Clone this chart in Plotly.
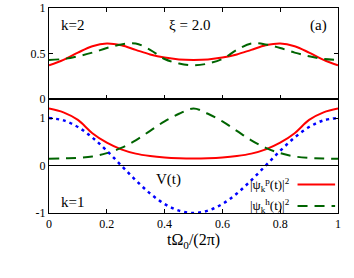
import plotly.graph_objects as go

t = [0.0, 0.05, 0.1, 0.15, 0.2, 0.25, 0.3, 0.35, 0.4, 0.45, 0.5,
     0.55, 0.6, 0.65, 0.7, 0.75, 0.8, 0.85, 0.9, 0.95, 1.0]

# panel k=2 (top)
p_k2 = [0.37, 0.43, 0.51, 0.58, 0.61, 0.59, 0.54, 0.49, 0.455, 0.435, 0.43,
        0.435, 0.455, 0.49, 0.54, 0.59, 0.61, 0.58, 0.51, 0.43, 0.37]
h_k2 = [0.43, 0.44, 0.47, 0.51, 0.56, 0.60, 0.61, 0.54, 0.44, 0.39, 0.37,
        0.39, 0.44, 0.54, 0.61, 0.60, 0.56, 0.51, 0.47, 0.44, 0.43]

# panel k=1 (bottom)
p_k1 = [1.20, 1.12, 0.96, 0.68, 0.48, 0.34, 0.25, 0.20, 0.17, 0.155, 0.15,
        0.155, 0.17, 0.20, 0.25, 0.34, 0.48, 0.68, 0.96, 1.12, 1.20]
h_k1 = [0.14, 0.15, 0.16, 0.19, 0.26, 0.37, 0.53, 0.73, 0.93, 1.09, 1.20,
        1.09, 0.93, 0.73, 0.53, 0.37, 0.26, 0.19, 0.16, 0.15, 0.14]
v_t = [1.0, 0.95, 0.81, 0.59, 0.31, 0.0, -0.31, -0.59, -0.81, -0.95, -1.0,
       -0.95, -0.81, -0.59, -0.31, 0.0, 0.31, 0.59, 0.81, 0.95, 1.0]

x_ticks = [0, 0.2, 0.4, 0.6, 0.8, 1]
x_ticklabels = ["0", "0.2", "0.4", "0.6", "0.8", "1"]

RED = "#ff0000"
GREEN = "#006400"
BLUE = "#0000ff"
FONT = "'Liberation Serif', 'Times New Roman', 'DejaVu Serif', serif"

fig = go.Figure()

fig.add_trace(go.Scatter(x=t, y=p_k2, mode="lines", line=dict(color=RED, width=2, shape="spline"),
                         xaxis="x2", yaxis="y2", showlegend=False))
fig.add_trace(go.Scatter(x=t, y=h_k2, mode="lines", line=dict(color=GREEN, width=2, dash="10px,7px", shape="spline"),
                         xaxis="x2", yaxis="y2", showlegend=False))

fig.add_trace(go.Scatter(x=t, y=p_k1, mode="lines", line=dict(color=RED, width=2, shape="spline"),
                         xaxis="x", yaxis="y", showlegend=False))
fig.add_trace(go.Scatter(x=t, y=h_k1, mode="lines", line=dict(color=GREEN, width=2, dash="10px,7px", shape="spline"),
                         xaxis="x", yaxis="y", showlegend=False))
fig.add_trace(go.Scatter(x=t, y=v_t, mode="lines", line=dict(color=BLUE, width=2.5, dash="3px,4px", shape="spline"),
                         xaxis="x", yaxis="y", showlegend=False))

split = 0.556
axis_common = dict(showgrid=False, zeroline=False, showline=True, linewidth=1, linecolor="black",
                   ticks="inside", ticklen=4, tickcolor="black", automargin=False,
                   tickfont=dict(family=FONT, size=12, color="black"))

fig.update_layout(
    width=354, height=278,
    margin=dict(l=49, r=16, t=8, b=65, autoexpand=False),
    paper_bgcolor="white", plot_bgcolor="white",
    font=dict(family=FONT, color="black"),
    xaxis=dict(domain=[0, 1], range=[0, 1], tickvals=x_ticks, ticktext=x_ticklabels, anchor="y",
               mirror=True,
               title=dict(text="tΩ<sub>0</sub>/(2π)", font=dict(family=FONT, size=16), standoff=2),
               **axis_common),
    yaxis=dict(domain=[0, split], range=[-1, 1.4], tickvals=[-1, 0, 1], ticktext=["-1", "0", "1"],
               anchor="x", mirror="ticks", **axis_common),
    xaxis2=dict(domain=[0, 1], range=[0, 1], tickvals=x_ticks, showticklabels=False, anchor="y2",
                mirror="ticks", **axis_common),
    yaxis2=dict(domain=[split, 1], range=[0, 1], tickvals=[0, 0.5, 1], ticktext=["0", "0.5", "1"],
                anchor="x2", mirror="ticks", **axis_common),
)

# zero line in bottom panel
fig.add_shape(type="line", xref="x", yref="y", x0=0, x1=1, y0=0, y1=0,
              line=dict(color="black", width=1))

ann_font = dict(family=FONT, size=15, color="black")
fig.add_annotation(x=0.035, y=0.81, xref="x2", yref="y2", text="k=2", showarrow=False,
                   xanchor="left", yanchor="middle", font=ann_font)
fig.add_annotation(x=0.485, y=0.81, xref="x2", yref="y2", text="ξ = 2.0", showarrow=False,
                   xanchor="center", yanchor="middle", font=ann_font)
fig.add_annotation(x=0.97, y=0.81, xref="x2", yref="y2", text="(a)", showarrow=False,
                   xanchor="right", yanchor="middle", font=ann_font)
fig.add_annotation(x=0.035, y=-0.76, xref="x", yref="y", text="k=1", showarrow=False,
                   xanchor="left", yanchor="middle", font=ann_font)
fig.add_annotation(x=0.415, y=-0.3, xref="x", yref="y", text="V(t)", showarrow=False,
                   xanchor="center", yanchor="middle", font=ann_font)

# legend (text left, sample right)
leg_font = dict(family=FONT, size=13, color="black")
fig.add_annotation(x=0.84, y=-0.4, xref="x", yref="y", text="|ψ<sub>k</sub><sup>p</sup>(t)|<sup>2</sup>",
                   showarrow=False, xanchor="right", yanchor="middle", font=leg_font)
fig.add_annotation(x=0.84, y=-0.85, xref="x", yref="y", text="|ψ<sub>k</sub><sup>h</sup>(t)|<sup>2</sup>",
                   showarrow=False, xanchor="right", yanchor="middle", font=leg_font)
fig.add_shape(type="line", xref="x", yref="y", x0=0.86, x1=0.99, y0=-0.4, y1=-0.4,
              line=dict(color=RED, width=2))
fig.add_shape(type="line", xref="x", yref="y", x0=0.86, x1=0.99, y0=-0.85, y1=-0.85,
              line=dict(color=GREEN, width=2, dash="10px,7px"))

fig.write_html("out.html", config={"displayModeBar": False},
               post_script="document.body.style.margin='0';")
